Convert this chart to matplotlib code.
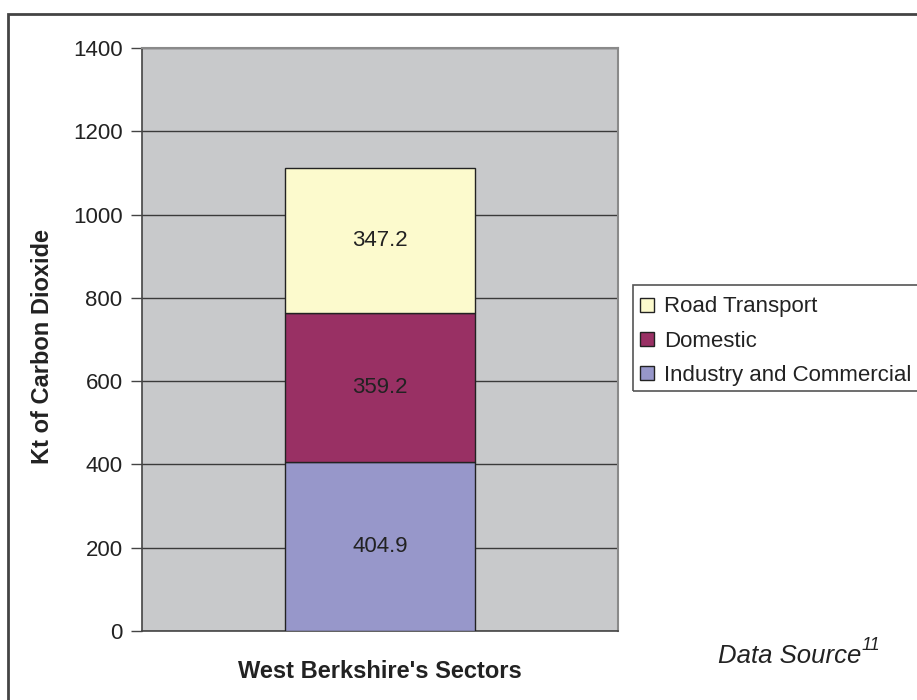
import matplotlib
matplotlib.use("Agg")
import matplotlib.pyplot as plt
from matplotlib.patches import Rectangle

plt.rcParams['font.family'] = ['Liberation Sans', 'DejaVu Sans']

# CO2 emissions by sector (kt)
category = ["West Berkshire's Sectors"]
sectors = ["Industry and Commercial", "Domestic", "Road Transport"]
values = [404.9, 359.2, 347.2]
colors = ["#9797CA", "#993064", "#FCFACD"]
yticks = [0, 200, 400, 600, 800, 1000, 1200, 1400]

W, H = 917, 700
fig = plt.figure(figsize=(W / 100, H / 100), dpi=100)
fig.patch.set_facecolor("white")

ax = fig.add_axes([142 / W, 1 - 631 / H, (618 - 142) / W, (631 - 48) / H])
ax.set_facecolor("#C8C9CB")

bottom = 0
handles = []
for name, val, col in zip(sectors, values, colors):
    b = ax.bar(0, val, width=0.4, bottom=bottom, color=col,
               edgecolor="#222222", linewidth=1.0, label=name, zorder=3)
    ax.text(0, bottom + val / 2, f"{val:.1f}", ha="center", va="center",
            fontsize=16, color="#222222", zorder=4)
    handles.append(b)
    bottom += val

ax.set_xlim(-0.5, 0.5)
ax.set_ylim(0, 1400)
ax.set_yticks(yticks)
ax.set_xticks([])
ax.tick_params(axis="y", direction="out", length=8, width=1, color="#444444",
               labelsize=16, labelcolor="#222222", pad=6)
ax.yaxis.grid(True, color="#3a3a3a", linewidth=1.0, zorder=1)
ax.set_axisbelow(True)

for side in ("left", "bottom"):
    ax.spines[side].set_color("#444444")
    ax.spines[side].set_linewidth(1.2)
for side in ("top", "right"):
    ax.spines[side].set_color("#8a8a8a")
    ax.spines[side].set_linewidth(1.5)

ax.set_ylabel("Kt of Carbon Dioxide", fontsize=17, fontweight="bold",
              color="#222222")
ax.yaxis.set_label_coords((43 - 142) / (618 - 142), (631 - 347) / (631 - 48))
ax.set_xlabel(category[0], fontsize=17, fontweight="bold", color="#222222")
ax.xaxis.set_label_coords(0.5, -(672 - 631) / (631 - 48))
ax.xaxis.label.set_va("center")
ax.yaxis.label.set_va("center")

# legend (top entry first)
leg = ax.legend(handles[::-1], sectors[::-1], loc="upper left",
                bbox_to_anchor=(636 / W, 1 - 292 / H), bbox_transform=fig.transFigure,
                frameon=False, fontsize=16, handlelength=0.6, handleheight=0.6,
                handletextpad=0.45, labelspacing=0.6, borderaxespad=0,
                borderpad=0.2)
for t in leg.get_texts():
    t.set_color("#222222")

# legend box, extending past the right edge
fig.patches.append(Rectangle((633 / W, 1 - 391 / H), (940 - 633) / W, (391 - 285) / H,
                             transform=fig.transFigure, fill=False,
                             edgecolor="#555555", linewidth=1.2, clip_on=False))

# outer chart border
fig.patches.append(Rectangle((8 / W, -0.05), 1.0, 1 - 14 / H + 0.05,
                             transform=fig.transFigure, fill=False,
                             edgecolor="#444444", linewidth=2, clip_on=False))

fig.text(861 / W, 1 - 656 / H, "Data Source", ha="right", va="center",
         fontsize=18.5, style="italic", color="#222222")
fig.text(862 / W, 1 - 646 / H, "11", ha="left", va="center",
         fontsize=13, style="italic", color="#222222")

fig.savefig("out.png", dpi=100)
